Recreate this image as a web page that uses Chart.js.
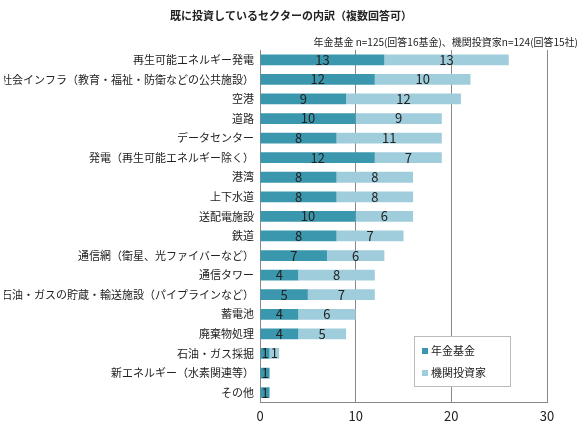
<!DOCTYPE html><html><head><meta charset="utf-8"><script src="https://cdn.jsdelivr.net/npm/chart.js@4"></script>
<style>body{margin:0;background:#fff}#w{position:relative;width:582px;height:434px}</style></head><body><div id="w"><canvas id="c" width="582" height="434"></canvas></div>
<script>
const categories=["再生可能エネルギー発電","社会インフラ（教育・福祉・防衛などの公共施設）","空港","道路","データセンター","発電（再生可能エネルギー除く）","港湾","上下水道","送配電施設","鉄道","通信網（衛星、光ファイバーなど）","通信タワー","石油・ガスの貯蔵・輸送施設（パイプラインなど）","蓄電池","廃棄物処理","石油・ガス採掘","新エネルギー（水素関連等）","その他"];
const pension=[13,12,9,10,8,12,8,8,10,8,7,4,5,4,4,1,1,1];
const investors=[13,10,12,9,11,7,8,8,6,7,6,8,7,6,5,1,0,0];
const seriesNames=["年金基金","機関投資家"];
const xTicks=[0,10,20,30];
const F='"Noto Sans CJK JP","Noto Sans",sans-serif';
const labelPlugin={id:'lbl',afterDatasetsDraw(ch){const c=ch.ctx;c.save();c.font='13px '+F;c.fillStyle='#222';c.textAlign='center';c.textBaseline='middle';
ch.data.datasets.forEach((ds,i)=>{ch.getDatasetMeta(i).data.forEach((b,j)=>{const v=ds.data[j];if(!v)return;c.fillText(String(v),(b.x+b.base)/2,b.y);});});c.restore();}};
const titlePlugin={id:'ttl',afterDraw(ch){const c=ch.ctx;c.save();c.fillStyle='#222';c.font='bold 11px '+F;c.textAlign='center';c.fillText('既に投資しているセクターの内訳（複数回答可）',291,20);
c.font='10px '+F;c.textAlign='right';c.fillText('年金基金 n=125(回答16基金)、機関投資家n=124(回答15社)',578,46);
const x=414,y=336,w=96,h=50;c.fillStyle='#fff';c.fillRect(x,y,w,h);c.strokeStyle='#bbb';c.lineWidth=1;c.strokeRect(x+.5,y+.5,w,h);
c.font='11px '+F;c.textAlign='left';c.textBaseline='middle';
[['#3a97ad',seriesNames[0],y+15],['#9fcddc',seriesNames[1],y+37]].forEach(a=>{c.fillStyle=a[0];c.fillRect(x+8,a[2]-3,6,6);c.fillStyle='#222';c.fillText(a[1],x+17,a[2]);});c.restore();}};
new Chart(document.getElementById('c'),{type:'bar',data:{labels:categories,datasets:[
{label:seriesNames[0],data:pension,backgroundColor:'#3a97ad',stack:'s',barPercentage:0.55,categoryPercentage:1},
{label:seriesNames[1],data:investors,backgroundColor:'#9fcddc',stack:'s',barPercentage:0.55,categoryPercentage:1}]},
options:{indexAxis:'y',responsive:false,animation:false,devicePixelRatio:1,
layout:{padding:{top:50,right:35,left:4,bottom:4}},
plugins:{legend:{display:false},tooltip:{enabled:false}},
scales:{x:{stacked:true,min:0,max:30,afterBuildTicks:a=>{a.ticks=xTicks.map(v=>({value:v}));},grid:{color:'#888',drawTicks:false},border:{color:'#888'},ticks:{color:'#222',font:{size:13,family:F},padding:6}},
y:{stacked:true,afterFit:a=>{a.width=256;},grid:{display:false,drawTicks:true,tickLength:4},border:{color:'#888'},ticks:{color:'#222',font:{size:11,family:F},autoSkip:false,padding:2}}}},
plugins:[labelPlugin,titlePlugin]});
</script></body></html>
